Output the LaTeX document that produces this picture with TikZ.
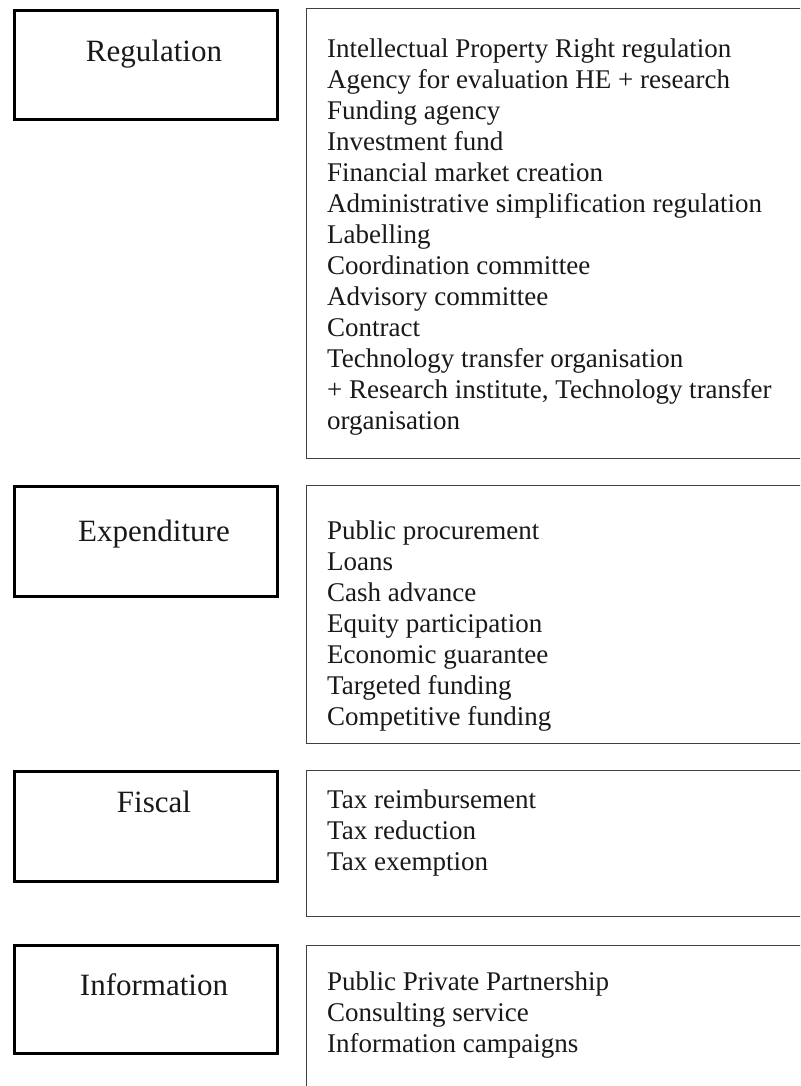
\documentclass[tikz,border=0pt]{standalone}
\usepackage{fontspec}
\setmainfont{Liberation Serif}
\begin{document}
\begin{tikzpicture}[x=1pt,y=-1pt,
  catbox/.style={draw=black, line width=2.6pt, rectangle, inner sep=0pt,
    anchor=north west, minimum width=263pt},
  listbox/.style={draw=black!75, line width=1.3pt, rectangle, inner sep=0pt,
    anchor=north west, minimum width=514pt},
  catlabel/.style={font=\fontsize{31}{36}\selectfont, anchor=base, inner sep=0pt,
    text=black!90},
  listtext/.style={font=\fontsize{27}{31}\selectfont, align=left,
    anchor=north west, inner sep=0pt, text=black!90}]
  \useasboundingbox (0,0) rectangle (800,1086);
  \clip (0,0) rectangle (800,1086);
  \fill[white] (0,0) rectangle (800,1086);

  % category boxes on the left
  \node[catbox, minimum height=109pt] (regbox) at (13,9) {};
  \node[catbox, minimum height=110pt] (expbox) at (13,485) {};
  \node[catbox, minimum height=110pt] (fisbox) at (13,770) {};
  \node[catbox, minimum height=108pt] (infbox) at (13,944) {};

  \node[catlabel] (reglabel) at (154,62) {Regulation};
  \node[catlabel] (explabel) at (154,541) {Expenditure};
  \node[catlabel] (fislabel) at (154,812) {Fiscal};
  \node[catlabel] (inflabel) at (154,995) {Information};

  % instrument lists on the right
  \node[listbox, minimum height=450pt] (reglist) at (306,8) {};
  \node[listbox, minimum height=258pt] (explist) at (306,485) {};
  \node[listbox, minimum height=146pt] (fislist) at (306,770) {};
  \node[listbox, minimum height=160pt] (inflist) at (306,945) {};

  \node[listtext] (regitems) at (327,38.5) {Intellectual Property Right regulation\\
    Agency for evaluation HE + research\\
    Funding agency\\
    Investment fund\\
    Financial market creation\\
    Administrative simplification regulation\\
    Labelling\\
    Coordination committee\\
    Advisory committee\\
    Contract\\
    Technology transfer organisation\\
    + Research institute, Technology transfer\\
    organisation};
  \node[listtext] (expitems) at (327,520.5) {Public procurement\\
    Loans\\
    Cash advance\\
    Equity participation\\
    Economic guarantee\\
    Targeted funding\\
    Competitive funding};
  \node[listtext] (fisitems) at (327,789.5) {Tax reimbursement\\
    Tax reduction\\
    Tax exemption};
  \node[listtext] (infitems) at (327,971.5) {Public Private Partnership\\
    Consulting service\\
    Information campaigns};
\end{tikzpicture}
\end{document}
